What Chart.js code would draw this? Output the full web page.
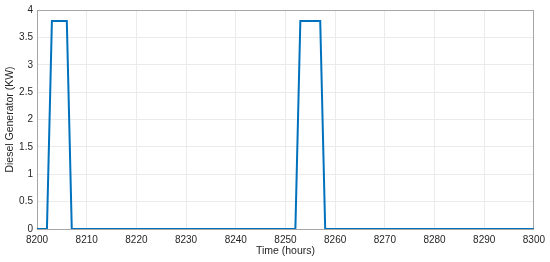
<!DOCTYPE html>
<html>
<head>
<meta charset="utf-8">
<script src="https://cdn.jsdelivr.net/npm/chart.js@4.4.1/dist/chart.umd.min.js"></script>
<style>
  html, body { margin: 0; padding: 0; background: #fff; }
  #wrap { width: 550px; height: 262px; position: relative; }
</style>
</head>
<body>
<div id="wrap"><canvas id="chart"></canvas></div>
<script>
// breakpoints of the generator output
const hours = [8200, 8202, 8203, 8206, 8207, 8252, 8253, 8257, 8258, 8300];
const powerKW = [0, 0, 3.8, 3.8, 0, 0, 3.8, 3.8, 0, 0];

const xTicks = [8200, 8210, 8220, 8230, 8240, 8250, 8260, 8270, 8280, 8290, 8300];
const yTicks = [0, 0.5, 1, 1.5, 2, 2.5, 3, 3.5, 4];

const FONT = "'Liberation Sans', Arial, sans-serif";
const TEXT = '#262626';
const BOX = '#a6a6a6';
const GRID = '#ebebeb';

const points = hours.map((h, i) => ({ x: h, y: powerKW[i] }));

new Chart(document.getElementById('chart').getContext('2d'), {
  type: 'line',
  data: {
    datasets: [{
      data: points,
      borderColor: '#0072BD',
      borderWidth: 2,
      pointRadius: 0,
      tension: 0,
      fill: false
    }]
  },
  options: {
    responsive: true,
    maintainAspectRatio: false,
    animation: false,
    layout: { padding: { top: 6, right: 16, left: 0, bottom: 0 } },
    plugins: { legend: { display: false }, tooltip: { enabled: false } },
    scales: {
      x: {
        type: 'linear',
        min: 8200,
        max: 8300,
        afterBuildTicks: (axis) => { axis.ticks = xTicks.map(v => ({ value: v })); },
        afterFit: (axis) => { axis.height = 33; },
        grid: { color: GRID, drawTicks: false },
        border: { color: BOX },
        ticks: { color: TEXT, font: { family: FONT, size: 10 }, padding: 5, maxRotation: 0, callback: (v) => String(v) },
        title: { display: true, text: 'Time (hours)', color: TEXT, font: { family: FONT, size: 10.5 }, padding: { top: 0, bottom: 5 } }
      },
      y: {
        min: 0,
        max: 4,
        afterBuildTicks: (axis) => { axis.ticks = yTicks.map(v => ({ value: v })); },
        afterFit: (axis) => { axis.width = 37; },
        grid: { color: GRID, drawTicks: false },
        border: { color: BOX },
        ticks: { color: TEXT, font: { family: FONT, size: 10 }, padding: 4, callback: (v) => String(v) },
        title: { display: true, text: 'Diesel Generator (KW)', color: TEXT, font: { family: FONT, size: 10.5 }, padding: { top: 4, bottom: 0 } }
      },
      xTop: {
        type: 'linear',
        position: 'top',
        min: 8200,
        max: 8300,
        afterFit: (axis) => { axis.height = 0; },
        grid: { display: false, drawTicks: false },
        border: { color: BOX },
        ticks: { display: false }
      },
      yRight: {
        position: 'right',
        min: 0,
        max: 4,
        afterFit: (axis) => { axis.width = 0; },
        grid: { display: false, drawTicks: false },
        border: { color: BOX },
        ticks: { display: false }
      }
    }
  }
});
</script>
</body>
</html>
